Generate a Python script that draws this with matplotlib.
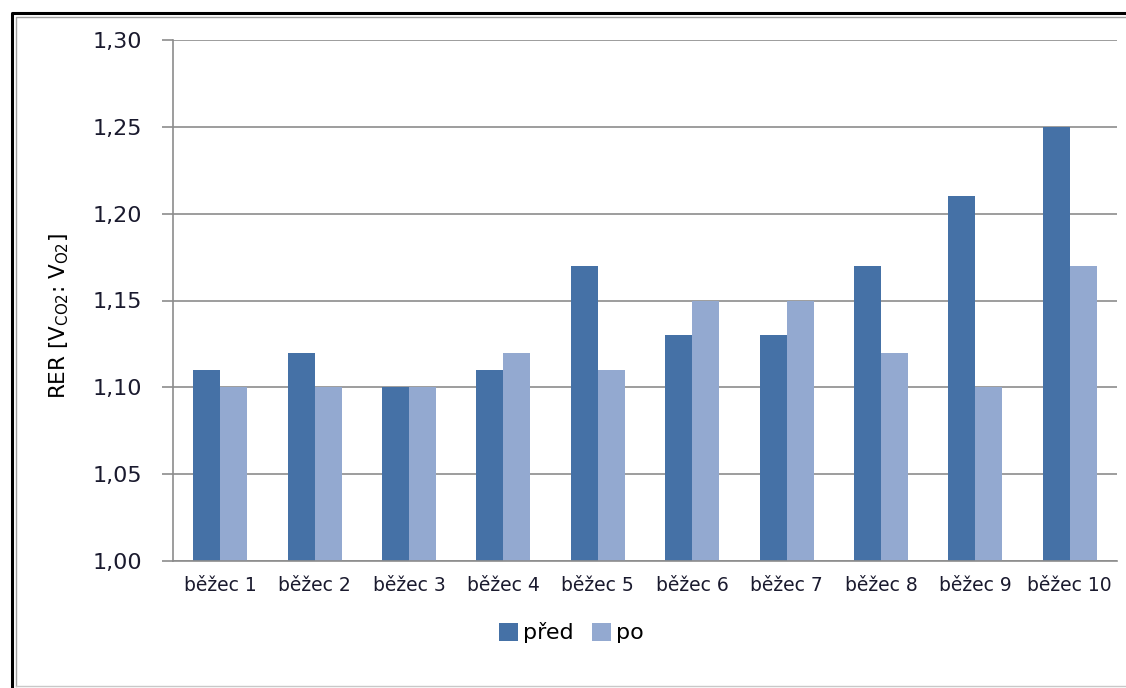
import numpy as np
import matplotlib.pyplot as plt
from matplotlib.lines import Line2D
from matplotlib.ticker import FuncFormatter

runners = ["běžec 1", "běžec 2", "běžec 3", "běžec 4", "běžec 5",
           "běžec 6", "běžec 7", "běžec 8", "běžec 9", "běžec 10"]
pred = [1.11, 1.12, 1.10, 1.11, 1.17, 1.13, 1.13, 1.17, 1.21, 1.25]
po = [1.10, 1.10, 1.10, 1.12, 1.11, 1.15, 1.15, 1.12, 1.10, 1.17]

W, H = 1126, 688
fig = plt.figure(figsize=(W / 100, H / 100), dpi=100)
fig.patch.set_facecolor("white")


def frame_line(xs, ys, color, lw):
    # xs, ys in pixels from the top-left corner
    fig.lines.append(Line2D([v / W for v in xs], [1 - v / H for v in ys],
                            transform=fig.transFigure, color=color, linewidth=lw))


# frame around the chart: black outer line, grey inner line
frame_line([12, 12, W + 5], [H + 5, 13, 13], "black", 2.2)
frame_line([16, 16, W + 5], [H - 2, 17, 17], "#a0a0a0", 1.0)
frame_line([16, W + 5], [H - 2, H - 2], "#c8c8c8", 1.0)

ax = fig.add_axes([173 / W, 1 - 561 / H, (1117 - 173) / W, (561 - 40) / H])

x = np.arange(len(runners))
w = 1 / 3.5
ax.bar(x - w / 2, [v - 1 for v in pred], w, bottom=1, color="#4571a6", label="před")
ax.bar(x + w / 2, [v - 1 for v in po], w, bottom=1, color="#93a9d0", label="po")

ax.set_xlim(-0.5, len(runners) - 0.5)
ax.set_ylim(1.0, 1.30)
ax.set_yticks(np.arange(1.0, 1.301, 0.05))
ax.yaxis.set_major_formatter(FuncFormatter(lambda v, p: f"{v:.2f}".replace(".", ",")))
ax.set_xticks(x)
ax.set_xticklabels(runners, fontsize=13.5)
ax.tick_params(axis="x", length=0, pad=11, colors="#1a1a2e")
ax.tick_params(axis="y", length=8, width=1.2, color="#8c8c8c", labelsize=16, pad=14,
               labelcolor="#1a1a2e")

ax.grid(axis="y", color="#8c8c8c", linewidth=1.2)
ax.set_axisbelow(True)
for side in ["top", "right"]:
    ax.spines[side].set_visible(False)
for side in ["left", "bottom"]:
    ax.spines[side].set_color("#8c8c8c")
    ax.spines[side].set_linewidth(1.2)

ax.set_ylabel(r"RER [V$_{\mathregular{CO2}}$: V$_{\mathregular{O2}}$]", fontsize=15.5)
ax.yaxis.set_label_coords(-0.108, 0.47)

ax.legend(loc="center", bbox_to_anchor=(0.422, -0.138), ncol=2, frameon=False, fontsize=16,
          handlelength=0.85, handleheight=0.85, handletextpad=0.25, columnspacing=0.8)

fig.savefig("out.png", dpi=100)
